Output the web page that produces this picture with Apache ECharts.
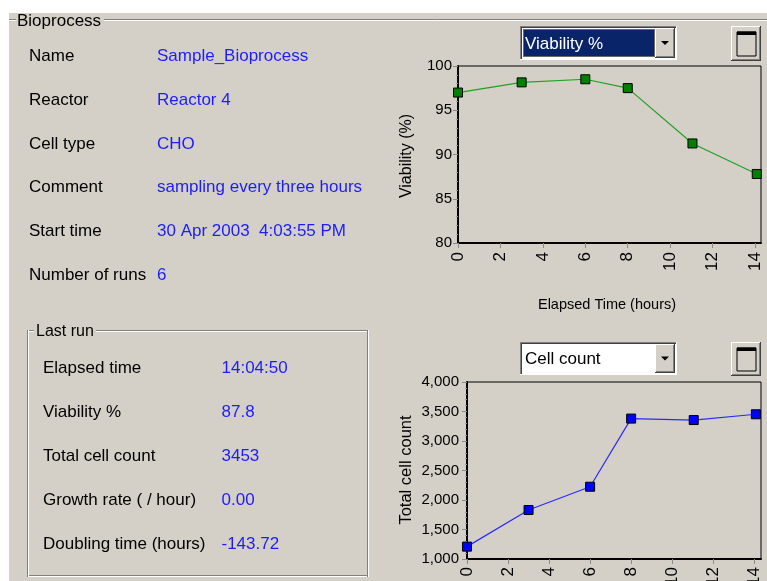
<!DOCTYPE html>
<html>
<head>
<meta charset="utf-8">
<script src="https://cdn.jsdelivr.net/npm/echarts@6/dist/echarts.min.js"></script>
<style>
html,body{margin:0;padding:0;background:#d4d0c8;}
#main{width:767px;height:581px;}
</style>
</head>
<body>
<div id="main"></div>
<script>
// ---- data ----
var elapsedHours = [0, 3, 6, 8, 11.05, 14.08];
var viabilityPct = [97.0, 98.15, 98.5, 97.5, 91.25, 87.8];
var totalCellCount = [1210, 1830, 2225, 3380, 3355, 3453];
var viabilityTicks = [80, 85, 90, 95, 100];
var cellCountTicks = [1000, 1500, 2000, 2500, 3000, 3500, 4000];
var infoLabels = ['Name', 'Reactor', 'Cell type', 'Comment', 'Start time', 'Number of runs'];
var infoValues = ['Sample_Bioprocess', 'Reactor 4', 'CHO', 'sampling every three hours', '30 Apr 2003  4:03:55 PM', '6'];
var lastRunLabels = ['Elapsed time', 'Viability %', 'Total cell count', 'Growth rate ( / hour)', 'Doubling time (hours)'];
var lastRunValues = ['14:04:50', '87.8', '3453', '0.00', '-143.72'];

var FONT = '"Liberation Sans", Arial, sans-serif';
var BG = '#d4d0c8';

function pairs(xs, ys) { return xs.map(function (x, i) { return [x, ys[i]]; }); }
function txt(t, x, y, size, color, extra) {
  var s = { text: t, x: 0, y: 0, fill: color, font: size + 'px ' + FONT,
            align: 'left', verticalAlign: 'middle', textAlign: 'left', textVerticalAlign: 'middle' };
  var o = { type: 'text', x: x, y: y, z: 10, style: s, silent: true };
  if (extra) { for (var k in extra) o[k] = extra[k]; }
  return o;
}
function ctxt(t, x, y, size, color, extra) {
  var o = txt(t, x, y, size, color, extra);
  o.style.align = 'center'; o.style.textAlign = 'center';
  return o;
}
function rect(x, y, w, h, fill, stroke, lw, z) {
  return { type: 'rect', z: z || 1, silent: true, shape: { x: x, y: y, width: w, height: h },
           style: { fill: fill || 'none', stroke: stroke || null, lineWidth: lw || 1 } };
}
function line(x1, y1, x2, y2, color, lw, z) {
  return { type: 'line', z: z || 2, silent: true, shape: { x1: x1, y1: y1, x2: x2, y2: y2 },
           style: { stroke: color, lineWidth: lw || 1 } };
}
function etchedH(x1, x2, y) { return [line(x1, y + 0.5, x2, y + 0.5, '#808080'), line(x1, y + 1.5, x2, y + 1.5, '#ffffff')]; }
function etchedV(x, y1, y2) { return [line(x + 0.5, y1, x + 0.5, y2, '#808080'), line(x + 1.5, y1, x + 1.5, y2, '#ffffff')]; }
function raised(x, y, w, h) {
  return [
    rect(x, y, w, h, BG, null, 0, 3),
    line(x, y + 0.5, x + w, y + 0.5, '#ffffff', 1, 4),
    line(x + 0.5, y, x + 0.5, y + h, '#ffffff', 1, 4),
    line(x, y + h - 0.5, x + w, y + h - 0.5, '#404040', 1, 4),
    line(x + w - 0.5, y, x + w - 0.5, y + h, '#404040', 1, 4),
    line(x + 1, y + h - 1.5, x + w - 1, y + h - 1.5, '#808080', 1, 4),
    line(x + w - 1.5, y + 1, x + w - 1.5, y + h - 1, '#808080', 1, 4)
  ];
}
function sunken(x, y, w, h, fill) {
  return [
    rect(x, y, w, h, fill, null, 0, 3),
    line(x, y + 0.5, x + w, y + 0.5, '#808080', 1, 4),
    line(x + 0.5, y, x + 0.5, y + h, '#808080', 1, 4),
    line(x + 1, y + 1.5, x + w - 1, y + 1.5, '#404040', 1, 4),
    line(x + 1.5, y + 1, x + 1.5, y + h - 1, '#404040', 1, 4),
    line(x, y + h - 0.5, x + w, y + h - 0.5, '#ffffff', 1, 4),
    line(x + w - 0.5, y, x + w - 0.5, y + h, '#ffffff', 1, 4)
  ];
}
function combo(x, y, w, h, label, selected) {
  var els = sunken(x, y, w, h, '#ffffff');
  var bw = 20;
  if (selected) {
    els.push(rect(x + 3, y + 3, w - bw - 5, h - 6, '#0a246a', null, 0, 5));
    els.push({ type: 'rect', z: 6, silent: true, shape: { x: x + 3.5, y: y + 3.5, width: w - bw - 6, height: h - 7 },
               style: { fill: 'none', stroke: '#c8b060', lineWidth: 1, lineDash: [1, 1] } });
  }
  els = els.concat(raised(x + w - bw - 2, y + 2, bw, h - 4));
  els.push({ type: 'polygon', z: 6, silent: true,
             shape: { points: [[x + w - bw + 4, y + h / 2 - 2], [x + w - 8, y + h / 2 - 2], [x + w - bw / 2 - 2, y + h / 2 + 2]] },
             style: { fill: '#000' } });
  els.push(txt(label, x + 5, y + h / 2 + 1, 17, selected ? '#ffffff' : '#000000'));
  return els;
}
function maxButton(x, y, w, h) {
  var els = raised(x, y, w, h);
  els.push(rect(x + 6, y + 6, w - 11, h - 11, 'none', '#000', 1, 6));
  els.push(rect(x + 6, y + 5.5, w - 11, 3.5, '#000', null, 0, 6));
  return els;
}

var g = [];
// white margins (top and left strips)
g.push(rect(0, 0, 767, 13, '#ffffff', null, 0, 1));
g.push(rect(0, 0, 9, 581, '#ffffff', null, 0, 1));
// Bioprocess group line
g = g.concat(etchedH(9, 16, 19));
g = g.concat(etchedH(104, 767, 19));
g.push(txt('Bioprocess', 17, 21.5, 17, '#000'));
// info rows
var infoY = [56.7, 100, 144, 187.7, 231, 275];
infoLabels.forEach(function (l, i) { g.push(txt(l, 29, infoY[i], 17, '#000')); });
infoValues.forEach(function (v, i) { g.push(txt(v, 157, infoY[i], 17, '#1c1cff')); });
// Last run group box
g = g.concat(etchedH(27, 34, 330));
g = g.concat(etchedH(96, 368, 330));
g = g.concat(etchedH(27, 369, 575));
g = g.concat(etchedV(27, 330, 577));
g = g.concat(etchedV(367, 330, 577));
g.push(txt('Last run', 36, 332, 16, '#000'));
var lrY = [368.3, 412.7, 456, 500, 544.3];
lastRunLabels.forEach(function (l, i) { g.push(txt(l, 43, lrY[i], 17, '#000')); });
lastRunValues.forEach(function (v, i) { g.push(txt(v, 221.5, lrY[i], 17, '#1c1cff')); });
// combos and buttons
g = g.concat(combo(520, 26, 157, 34, 'Viability %', true));
g = g.concat(maxButton(731, 26, 30, 35));
g = g.concat(combo(520, 342, 157, 33, 'Cell count', false));
g = g.concat(maxButton(731, 342, 30, 34));
// axis titles
g.push(ctxt('Viability (%)', 406.5, 156, 16, '#000', { rotation: Math.PI / 2 }));
g.push(ctxt('Elapsed Time (hours)', 607, 305, 14.5, '#000'));
g.push(ctxt('Total cell count', 406.5, 470, 16.5, '#000', { rotation: Math.PI / 2 }));

function xAxisCfg(gi, max, margin, fs) {
  return {
    type: 'value', gridIndex: gi, min: 0, max: max, interval: 2, z: 20,
    axisLine: { show: true, lineStyle: { color: '#000', width: 2 } },
    axisTick: { show: true, length: 5, lineStyle: { color: '#8a8a8a' } },
    axisLabel: { rotate: 90, margin: margin, color: '#000', fontSize: fs, fontFamily: FONT, showMaxLabel: false },
    splitLine: { show: false }
  };
}
function yAxisCfg(gi, min, max, interval, margin, fmt) {
  return {
    type: 'value', gridIndex: gi, min: min, max: max, interval: interval, z: 20,
    axisLine: { show: true, lineStyle: { color: '#000', width: 2 } },
    axisTick: { show: true, length: 5, lineStyle: { color: '#8a8a8a' } },
    minorTick: { show: true, splitNumber: 5, length: 2, lineStyle: { color: '#9a9a9a' } },
    axisLabel: { margin: margin, color: '#000', fontSize: 15, fontFamily: FONT, formatter: fmt },
    splitLine: { show: false }
  };
}

var chart = echarts.init(document.getElementById('main'), null, { renderer: 'canvas' });
chart.setOption({
  backgroundColor: BG,
  animation: false,
  graphic: { elements: g },
  grid: [
    { left: 458, top: 66, width: 303, height: 177, show: true, z: 15, borderColor: '#000', borderWidth: 1,
      backgroundColor: 'transparent', containLabel: false, outerBoundsMode: 'none' },
    { left: 467, top: 382, width: 294, height: 177, show: true, z: 15, borderColor: '#000', borderWidth: 1,
      backgroundColor: 'transparent', containLabel: false, outerBoundsMode: 'none' }
  ],
  xAxis: [xAxisCfg(0, 14.28, 9, 17), xAxisCfg(1, 14.33, 8, 17)],
  yAxis: [
    yAxisCfg(0, viabilityTicks[0], viabilityTicks[viabilityTicks.length - 1], 5, 6, null),
    yAxisCfg(1, cellCountTicks[0], cellCountTicks[cellCountTicks.length - 1], 500, 8,
      function (v) { return Number(v).toLocaleString('en-US'); })
  ],
  series: [
    { type: 'line', xAxisIndex: 0, yAxisIndex: 0, data: pairs(elapsedHours, viabilityPct), z: 30,
      symbol: 'rect', symbolSize: 9, clip: false,
      lineStyle: { color: '#22a022', width: 1.2 },
      itemStyle: { color: '#008000', borderColor: '#000', borderWidth: 1 } },
    { type: 'line', xAxisIndex: 1, yAxisIndex: 1, data: pairs(elapsedHours, totalCellCount), z: 30,
      symbol: 'rect', symbolSize: 9, clip: false,
      lineStyle: { color: '#2a2aff', width: 1.2 },
      itemStyle: { color: '#0000ff', borderColor: '#000', borderWidth: 1 } }
  ]
});
</script>
</body>
</html>
